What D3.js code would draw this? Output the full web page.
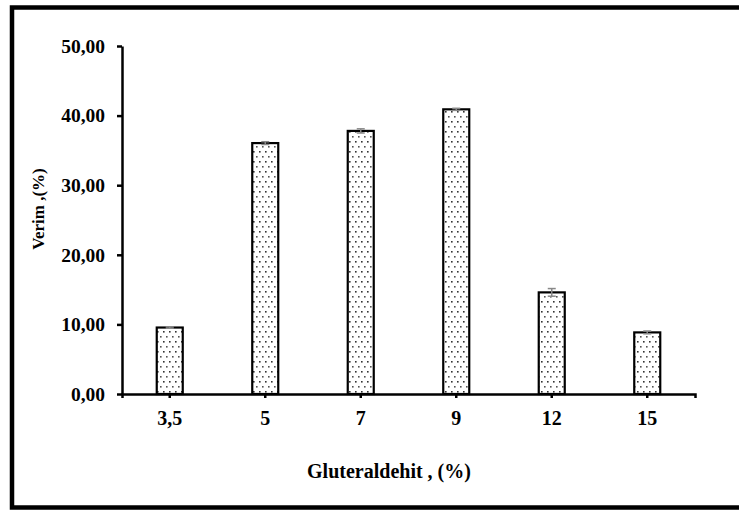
<!DOCTYPE html>
<html>
<head>
<meta charset="utf-8">
<script src="https://cdn.jsdelivr.net/npm/d3@7"></script>
<style>
html,body{margin:0;padding:0;background:#fff;}
svg{display:block;}
</style>
</head>
<body>
<svg id="chart" width="739" height="511"></svg>
<script>
const categories = ["3,5", "5", "7", "9", "12", "15"];
const values = [9.55, 36.05, 37.8, 40.9, 14.6, 8.85];
const errors = [0.1, 0.2, 0.3, 0.15, 0.55, 0.2];
const yTicks = [0, 10, 20, 30, 40, 50];
const yTickLabels = ["0,00", "10,00", "20,00", "30,00", "40,00", "50,00"];
const xTitle = "Gluteraldehit  , (%)";
const yTitle = "Verim ,(%)";

const FONT = "'Times New Roman', 'Liberation Serif', Times, serif";
const svg = d3.select("#chart");
const W = 739, H = 511;

// pattern
const defs = svg.append("defs");
const pat = defs.append("pattern").attr("id", "dots")
  .attr("patternUnits", "userSpaceOnUse")
  .attr("width", 6).attr("height", 10);
pat.append("rect").attr("width", 6).attr("height", 10).attr("fill", "#fff");
pat.append("rect").attr("x", 1).attr("y", 1).attr("width", 1.6).attr("height", 1.6).attr("fill", "#333");
pat.append("rect").attr("x", 4).attr("y", 6).attr("width", 1.6).attr("height", 1.6).attr("fill", "#555");

// outer frame (right side open / off-canvas)
svg.append("path")
  .attr("d", `M${W + 10},7.5 H12 V507.5 H${W + 10}`)
  .attr("fill", "none").attr("stroke", "#000").attr("stroke-width", 4.5);

const x0 = 122, x1 = 695, yBase = 394, yTop = 46;
const x = d3.scaleBand().domain(categories).range([x0, x1]).padding(0);
const y = d3.scaleLinear().domain([0, 50]).range([yBase, yTop]);
const barW = 26;

// bars
const g = svg.append("g");
g.selectAll("rect.bar").data(values).enter().append("rect")
  .attr("class", "bar")
  .attr("x", (d, i) => x(categories[i]) + x.bandwidth() / 2 - barW / 2)
  .attr("y", d => y(d))
  .attr("width", barW)
  .attr("height", d => y(0) - y(d))
  .attr("fill", "url(#dots)")
  .attr("stroke", "#000").attr("stroke-width", 2.2);

// error bars
const eb = g.selectAll("g.err").data(values).enter().append("g").attr("class", "err")
  .attr("stroke", "#888").attr("stroke-width", 1.5);
eb.append("line")
  .attr("x1", (d, i) => x(categories[i]) + x.bandwidth() / 2)
  .attr("x2", (d, i) => x(categories[i]) + x.bandwidth() / 2)
  .attr("y1", (d, i) => y(d + errors[i]))
  .attr("y2", (d, i) => y(d - errors[i]));
eb.append("line")
  .attr("x1", (d, i) => x(categories[i]) + x.bandwidth() / 2 - 4)
  .attr("x2", (d, i) => x(categories[i]) + x.bandwidth() / 2 + 4)
  .attr("y1", (d, i) => y(d + errors[i]))
  .attr("y2", (d, i) => y(d + errors[i]));
eb.append("line")
  .attr("x1", (d, i) => x(categories[i]) + x.bandwidth() / 2 - 4)
  .attr("x2", (d, i) => x(categories[i]) + x.bandwidth() / 2 + 4)
  .attr("y1", (d, i) => y(d - errors[i]))
  .attr("y2", (d, i) => y(d - errors[i]));

// y axis
const yAxis = d3.axisLeft(y).tickValues(yTicks)
  .tickFormat((d, i) => yTickLabels[i]).tickSize(5).tickSizeOuter(0).tickPadding(12);
const ya = svg.append("g").attr("transform", `translate(${x0},0)`).call(yAxis)
  .attr("font-family", FONT).attr("font-size", 19.5).attr("font-weight", "bold");
ya.select(".domain").attr("stroke", "#000").attr("stroke-width", 2.5);
ya.selectAll(".tick line").attr("stroke", "#000").attr("stroke-width", 2.5);

// x axis
const xAxis = d3.axisBottom(x).tickSize(4).tickSizeOuter(4).tickPadding(13);
const xa = svg.append("g").attr("transform", `translate(0,${yBase})`).call(xAxis)
  .attr("font-family", FONT).attr("font-size", 20).attr("font-weight", "bold");
xa.select(".domain").attr("stroke", "#000").attr("stroke-width", 2.5);
xa.selectAll(".tick line").attr("stroke", "#000").attr("stroke-width", 2.5);

// titles
svg.append("text").attr("x", 389).attr("y", 478).attr("text-anchor", "middle")
  .attr("font-family", FONT).attr("font-size", 20).attr("font-weight", "bold")
  .text(xTitle);
svg.append("text").attr("transform", "translate(44,209) rotate(-90)")
  .attr("text-anchor", "middle")
  .attr("font-family", FONT).attr("font-size", 17).attr("font-weight", "bold")
  .text(yTitle);
</script>
</body>
</html>
